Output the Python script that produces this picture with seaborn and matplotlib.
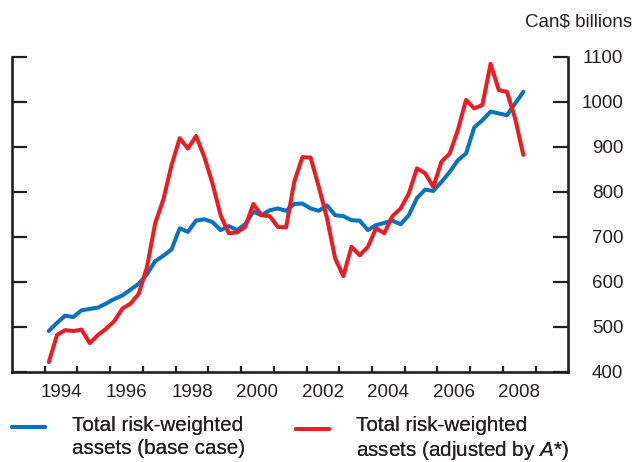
import numpy as np
import pandas as pd
import matplotlib
matplotlib.use("Agg")
import matplotlib.pyplot as plt
import seaborn as sns
from matplotlib.legend_handler import HandlerLine2D

# ---------------- data (quarterly, 1994Q1 .. 2008Q3) ----------------
base_case = [491, 509, 525, 522, 537, 540, 543, 552, 562, 570,
             583, 596, 617, 646, 658, 672, 719, 711, 736, 739,
             733, 715, 724, 715, 728, 756, 748, 759, 763, 758,
             773, 774, 763, 758, 770, 748, 746, 737, 736, 715,
             726, 731, 736, 728, 748, 786, 805, 802, 822, 844,
             870, 885, 943, 959, 978, 974, 970, 996, 1022]
adjusted = [422, 482, 493, 491, 494, 464, 482, 496, 513, 541,
            552, 574, 633, 730, 783, 859, 919, 896, 924, 878,
            819, 748, 708, 710, 722, 773, 748, 746, 722, 721,
            822, 877, 876, 811, 742, 652, 613, 678, 659, 678,
            719, 708, 746, 763, 796, 852, 841, 811, 867, 885,
            937, 1004, 985, 993, 1084, 1026, 1022, 963, 882]
quarter_time = 1994.125 + 0.25 * np.arange(len(base_case))

series_names = ["Total risk-weighted\nassets (base case)",
                "Total risk-weighted\nassets (adjusted by $\\mathit{A}$*)"]
year_ticks = list(range(1994, 2010))
year_labels = [str(y) for y in range(1994, 2009, 2)]
y_ticks = [400, 500, 600, 700, 800, 900, 1000, 1100]

df = pd.DataFrame({
    "time": np.concatenate([quarter_time, quarter_time]),
    "value": base_case + adjusted,
    "series": [series_names[0]] * len(base_case) + [series_names[1]] * len(adjusted),
})

# ---------------- style ----------------
sns.set_style("white")
plt.rcParams["font.family"] = ["Liberation Sans", "DejaVu Sans"]
plt.rcParams["mathtext.fontset"] = "custom"
plt.rcParams["mathtext.it"] = "Liberation Sans:italic"
plt.rcParams["mathtext.rm"] = "Liberation Sans"

BLUE = "#0a72bb"
RED = "#ec1c24"
INK = "#231f20"
TXT = "#231f20"

W, H = 634, 462
fig = plt.figure(figsize=(W / 100, H / 100), dpi=100)
left, right, bottom, top = 12, 568.3, 372, 56.7
ax = fig.add_axes([left / W, 1 - bottom / H, (right - left) / W, (bottom - top) / H])

sns.lineplot(data=df, x="time", y="value", hue="series",
             palette={series_names[0]: BLUE, series_names[1]: RED},
             linewidth=2.9, legend=False, ax=ax, sort=False)
for ln in ax.lines:
    ln.set_solid_joinstyle("round")

ax.set_xlim(1993, 2010)
ax.set_ylim(400, 1100)
ax.set_xlabel("")
ax.set_ylabel("")

for s in ["left", "right", "bottom"]:
    ax.spines[s].set_visible(True)
    ax.spines[s].set_color(INK)
    ax.spines[s].set_linewidth(1.9)
ax.spines["top"].set_visible(False)

# x: year ticks (major, no labels), labels centered in even years (minor)
ax.set_xticks(year_ticks)
ax.set_xticklabels([])
ax.set_xticks([int(y) + 0.5 for y in year_labels], minor=True)
ax.set_xticklabels(year_labels, minor=True)
ax.tick_params(axis="x", which="major", direction="in", length=4.5, width=1.6,
               color=INK, bottom=True, top=False)
ax.tick_params(axis="x", which="minor", length=0, pad=8.3, labelsize=13.5,
               labelcolor=TXT)

# y: ticks on both sides inward, labels right, right-aligned
ax.set_yticks(y_ticks)
ax.set_yticklabels([str(v) for v in y_ticks])
ax.tick_params(axis="y", which="major", direction="in", length=10.5, width=1.6,
               color=INK, left=True, right=True, labelleft=False, labelright=True,
               pad=39.6, labelsize=13.5, labelcolor=TXT)
plt.setp(ax.yaxis.get_majorticklabels(), ha="right")
ax.grid(False)

fig.text(632 / W, 1 - 26.7 / H, "Can$ billions", ha="right", va="baseline",
         fontsize=13.5, color=TXT)


class FirstLineHandler(HandlerLine2D):
    def __init__(self, shift, **kw):
        super().__init__(**kw)
        self.shift = shift

    def create_artists(self, *args, **kwargs):
        arts = super().create_artists(*args, **kwargs)
        for a in arts:
            a.set_ydata(np.asarray(a.get_ydata()) + self.shift)
        return arts


lines = ax.lines
for ln, lab, xpx in [(lines[0], series_names[0], 12.3), (lines[1], series_names[1], 296)]:
    leg = fig.legend([ln], [lab], loc="upper left",
                     bbox_to_anchor=(xpx / W, 1 - 416 / H),
                     frameon=False, borderpad=0, borderaxespad=0,
                     handlelength=1.6, handletextpad=1.3, fontsize=14.9,
                     labelcolor=TXT,
                     handler_map={ln: FirstLineHandler(shift=7.4)})
    for t in leg.get_texts():
        t.set_linespacing(1.24)
    fig.add_artist(leg)

fig.savefig("out.png", dpi=100)
